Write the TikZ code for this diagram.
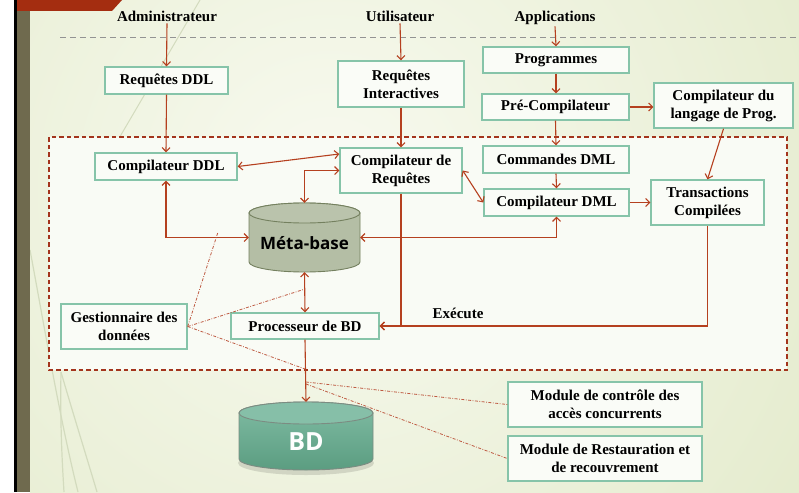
\documentclass[tikz,border=0pt]{standalone}
\usepackage{fontspec}
\setmainfont{Liberation Serif}
\newfontfamily\dbfont{Open Sans}
\usetikzlibrary{arrows.meta,calc}

\definecolor{bgin}{HTML}{F8FAF0}
\definecolor{bgout}{HTML}{DCE5BE}
\definecolor{stripe}{HTML}{6F6A4E}
\definecolor{tab}{HTML}{A42D10}
\definecolor{zonefill}{HTML}{F9FBF5}
\definecolor{zoneline}{HTML}{A3341C}
\definecolor{boxline}{HTML}{86C4A9}
\definecolor{boxfill}{HTML}{FAFCF7}
\definecolor{arrc}{HTML}{B5401F}
\definecolor{ddc}{HTML}{BE5A42}
\definecolor{metafill}{HTML}{B4BEA5}
\definecolor{metaline}{HTML}{74805F}
\definecolor{bdtop}{HTML}{80BCA3}
\definecolor{bdbot}{HTML}{5B9D81}
\definecolor{bdline}{HTML}{7C8C82}
\definecolor{swoosh}{HTML}{D3DBBE}

\begin{document}
\begin{tikzpicture}[x=1pt,y=-1pt,
  box/.style={draw=boxline, fill=boxfill, line width=1.4pt, align=center,
    inner sep=0pt, font=\bfseries\fontsize{15}{18}\selectfont},
  actor/.style={font=\bfseries\fontsize{15}{18}\selectfont, inner sep=1pt},
  arr/.style={draw=arrc, line width=1.1pt, -{Straight Barb[length=4pt,width=8pt]}},
  darr/.style={draw=arrc, line width=1.1pt, {Straight Barb[length=4pt,width=8pt]}-{Straight Barb[length=4pt,width=8pt]}},
  dd/.style={draw=ddc, line width=0.8pt, dash pattern=on 3pt off 1.5pt on 0.8pt off 1.5pt},
  anchorbox/.style={inner sep=0pt, draw=none}]
\useasboundingbox (0,0) rectangle (799,492);

% page background
\fill[white] (0,0) rectangle (14,492);
\fill[black] (14,0) rectangle (17,492);
\fill[stripe] (17,0) rectangle (30,492);
\begin{scope}
  \clip (30,0) rectangle (799,492);
  \shade[inner color=bgin, outer color=bgout] (330,190) circle [radius=820pt];
  \draw[swoosh, line width=1pt] (200,0) -- (118,140);
  \draw[swoosh, line width=1.2pt] (30,250) .. controls (45,330) and (60,420) .. (78,492);
  \draw[swoosh, line width=1.2pt] (61,372) .. controls (60,420) and (62,460) .. (64,492);
  \draw[swoosh, line width=1.2pt] (61,372) .. controls (72,410) and (86,455) .. (97,492);
\end{scope}
\fill[tab] (17,0) -- (122,0) -- (112,11) -- (17,11) -- cycle;

% separation line under the actors
\draw[gray!85, line width=0.9pt, dash pattern=on 6pt off 4pt] (60,37) -- (799,37);

% DBMS zone
\draw[zoneline, fill=zonefill, line width=1.1pt, dash pattern=on 4.5pt off 3pt] (49,137) rectangle (787,370);

% actors
\node[actor, anchor=base] (admin) at (167,22) {Administrateur};
\node[actor, anchor=base] (user)  at (400,22) {Utilisateur};
\node[actor, anchor=base] (apps)  at (555,22) {Applications};

% boxes
\node[box, minimum width=123, minimum height=27] (rddl) at (166.5,80.5) {Requêtes DDL};
\node[box, minimum width=126, minimum height=46] (rint) at (401,84) {Requêtes\\Interactives};
\node[box, minimum width=146, minimum height=26] (prog) at (556,60) {Programmes};
\node[box, minimum width=147, minimum height=26] (prec) at (555.5,107) {Pré-Compilateur};
\node[box, minimum width=139, minimum height=45] (clp)  at (723.5,105.5) {Compilateur du\\langage de Prog.};
\node[box, minimum width=146, minimum height=27] (cmd)  at (556,159.5) {Commandes DML};
\node[box, minimum width=145, minimum height=27] (cdml) at (556.5,202.5) {Compilateur DML};
\node[box, minimum width=113, minimum height=45] (trans) at (707.5,202.5) {Transactions\\Compilées};
\node[box, minimum width=142, minimum height=27] (cddl) at (166,166.5) {Compilateur DDL};
\node[box, minimum width=122, minimum height=45] (creq) at (401,170.5) {Compilateur de\\Requêtes};
\node[box, minimum width=148, minimum height=26] (proc) at (305,326) {Processeur de BD};
\node[box, minimum width=126, minimum height=45] (gest) at (124,326.5) {Gestionnaire des\\données};
\node[box, minimum width=194, minimum height=45] (mcc)  at (605,404.5) {Module de contrôle des\\accès concurrents};
\node[box, minimum width=194, minimum height=45] (mrr)  at (605,458.5) {Module de Restauration et\\de recouvrement};

% Méta-base cylinder
\node[anchorbox, minimum width=111, minimum height=69] (meta) at (304.5,237.5) {};
\draw[metaline, fill=metafill, line width=0.9pt]
  (249,213) -- (249,262) arc[start angle=180, end angle=360, x radius=55.5pt, y radius=10pt]
  -- (360,213) arc[start angle=0, end angle=180, x radius=55.5pt, y radius=10pt] -- cycle;
\draw[metaline, fill=metafill!92!white, line width=0.9pt] (304.5,213) ellipse [x radius=55.5pt, y radius=10pt];
\node[font=\dbfont\bfseries\fontsize{17}{20}\selectfont] at (304.5,243) {Méta-base};

% BD cylinder
\node[anchorbox, minimum width=134, minimum height=68] (bd) at (306,436) {};
\fill[black, opacity=0.12] (306,463) ellipse [x radius=68pt, y radius=12pt];
\shade[top color=bdtop, bottom color=bdbot, draw=bdline, line width=0.9pt]
  (239,413) -- (239,459) arc[start angle=180, end angle=360, x radius=67pt, y radius=11pt]
  -- (373,413) arc[start angle=0, end angle=180, x radius=67pt, y radius=11pt] -- cycle;
\draw[bdline, fill=bdtop!95!white, line width=0.9pt] (306,413) ellipse [x radius=67pt, y radius=11pt];
\node[font=\dbfont\bfseries\fontsize{25}{28}\selectfont, text=white] at (306,442) {BD};

% flows from the actors
\draw[arr] (admin.south) -- (rddl.north);
\draw[arr] (rddl.south) -- (cddl.north);
\draw[arr] (user.south) -- (rint.north);
\draw[arr] (rint.south) -- (creq.north);
\draw[arr] (apps.south) -- (prog.north);
\draw[arr] (prog.south) -- (prog.south |- prec.north);
\draw[arr] (prec.south) -- (cmd.north);
\draw[arr] (prec.east) -- (prec.east -| clp.west);
\draw[arr] (clp.south) -- (trans.north);
\draw[arr] (cmd.south) -- (cdml.north);
\draw[arr] (cdml.east) -- (trans.west);

% exchanges between compilers and the Méta-base
\draw[darr] (cddl.east) -- ([yshift=16.5pt]creq.west);
\draw[darr] (meta.north) |- (creq.west);
\draw[darr] (cddl.south) |- (meta.west);
\draw[darr] (meta.east) -| (cdml.south);
\draw[darr] (creq.east) -- (cdml.west);
\draw[darr] (meta.south) -- (proc.north);

% execution
\draw[arr] (creq.south) |- (proc.east);
\draw[arr] (trans.south) |- (proc.east);
\node[actor] (exec) at (458,313) {Exécute};
\draw[arr] (proc.south) -- (bd.north);

% responsibilities
\coordinate (g1) at (218,232);
\coordinate (g2) at (305,289);
\coordinate (g3) at (305,369);
\coordinate (m1) at (306,382);
\coordinate (m2) at (306,384);
\draw[dd] (gest.east) -- (g1);
\draw[dd] (gest.east) -- (g2);
\draw[dd] (gest.east) -- (g3);
\draw[dd] (m1) -- (mcc.west);
\draw[dd] (m2) -- (mrr.west);
\end{tikzpicture}
\end{document}
